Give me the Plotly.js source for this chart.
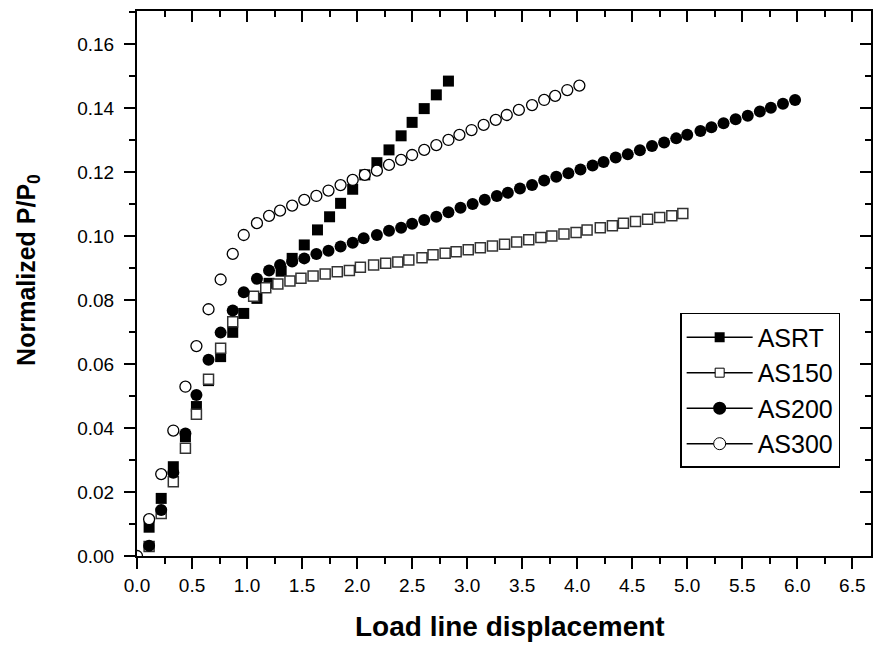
<!DOCTYPE html>
<html>
<head>
<meta charset="utf-8">
<script src="https://cdn.plot.ly/plotly-3.0.1.min.js"></script>
<style>html,body{margin:0;padding:0;background:#fff;}#chart{width:874px;height:645px;}</style>
</head>
<body>
<div id="chart"></div>
<script>
const seriesNames = ["ASRT", "AS150", "AS200", "AS300"];

const asrtX = [0.11, 0.22, 0.33, 0.44, 0.54, 0.65, 0.76, 0.87, 0.97, 1.09, 1.20, 1.31, 1.41, 1.52, 1.64, 1.75, 1.85, 1.96, 2.07, 2.18, 2.29, 2.40, 2.50, 2.61, 2.72, 2.83];
const asrtY = [0.0090, 0.0180, 0.0279, 0.0373, 0.0467, 0.0548, 0.0623, 0.0699, 0.0758, 0.0805, 0.0852, 0.0890, 0.0930, 0.0972, 0.1019, 0.1060, 0.1102, 0.1146, 0.1191, 0.1229, 0.1269, 0.1313, 0.1355, 0.1398, 0.1441, 0.1484];

const as150X = [0.11, 0.22, 0.33, 0.44, 0.54, 0.65, 0.76, 0.87, 1.06, 1.17, 1.28, 1.39, 1.49, 1.60, 1.71, 1.82, 1.93, 2.03, 2.15, 2.26, 2.37, 2.47, 2.59, 2.69, 2.80, 2.90, 3.01, 3.12, 3.23, 3.34, 3.45, 3.56, 3.67, 3.77, 3.88, 3.99, 4.09, 4.21, 4.32, 4.42, 4.53, 4.64, 4.75, 4.86, 4.96];
const as150Y = [0.0030, 0.0133, 0.0232, 0.0337, 0.0443, 0.0552, 0.0649, 0.0732, 0.0812, 0.0838, 0.0850, 0.0859, 0.0868, 0.0875, 0.0881, 0.0888, 0.0892, 0.0902, 0.0909, 0.0915, 0.0919, 0.0925, 0.0932, 0.0941, 0.0946, 0.0951, 0.0957, 0.0963, 0.0969, 0.0974, 0.0981, 0.0988, 0.0995, 0.1000, 0.1006, 0.1011, 0.1019, 0.1026, 0.1032, 0.1040, 0.1045, 0.1052, 0.1058, 0.1063, 0.1070];

const as200X = [0.11, 0.22, 0.33, 0.44, 0.54, 0.65, 0.76, 0.87, 0.97, 1.09, 1.20, 1.30, 1.41, 1.52, 1.63, 1.74, 1.85, 1.96, 2.06, 2.18, 2.29, 2.40, 2.50, 2.61, 2.72, 2.83, 2.94, 3.05, 3.16, 3.27, 3.37, 3.48, 3.59, 3.70, 3.81, 3.92, 4.03, 4.14, 4.24, 4.35, 4.46, 4.57, 4.68, 4.79, 4.90, 5.00, 5.12, 5.22, 5.33, 5.44, 5.55, 5.66, 5.76, 5.87, 5.98];
const as200Y = [0.0032, 0.0144, 0.0260, 0.0383, 0.0503, 0.0613, 0.0698, 0.0767, 0.0824, 0.0866, 0.0892, 0.0909, 0.0920, 0.0930, 0.0944, 0.0954, 0.0967, 0.0979, 0.0993, 0.1003, 0.1016, 0.1026, 0.1038, 0.1050, 0.1060, 0.1074, 0.1088, 0.1100, 0.1113, 0.1125, 0.1135, 0.1148, 0.1159, 0.1173, 0.1185, 0.1196, 0.1208, 0.1220, 0.1231, 0.1245, 0.1255, 0.1268, 0.1281, 0.1292, 0.1305, 0.1316, 0.1328, 0.1340, 0.1352, 0.1365, 0.1376, 0.1389, 0.1401, 0.1413, 0.1425];

const as300X = [0.00, 0.11, 0.22, 0.33, 0.44, 0.54, 0.65, 0.76, 0.87, 0.97, 1.09, 1.20, 1.30, 1.41, 1.52, 1.63, 1.74, 1.85, 1.96, 2.07, 2.18, 2.29, 2.40, 2.50, 2.61, 2.72, 2.83, 2.93, 3.04, 3.15, 3.26, 3.36, 3.47, 3.59, 3.70, 3.80, 3.91, 4.02];
const as300Y = [0.0000, 0.0115, 0.0256, 0.0392, 0.0529, 0.0656, 0.0771, 0.0864, 0.0944, 0.1003, 0.1040, 0.1063, 0.1079, 0.1095, 0.1113, 0.1125, 0.1142, 0.1159, 0.1175, 0.1191, 0.1204, 0.1222, 0.1238, 0.1253, 0.1269, 0.1284, 0.1300, 0.1316, 0.1331, 0.1347, 0.1363, 0.1378, 0.1394, 0.1409, 0.1425, 0.1438, 0.1456, 0.1470];

const xTitle = "Load line displacement";
const yTitle = "Normalized P/P<sub>0</sub>";

const FONT = "Liberation Sans, Arial, sans-serif";

const markerStyles = [
  {symbol: "square", size: 11, color: "#000", line: {color: "#000", width: 0}},
  {symbol: "square", size: 10, color: "#fff", line: {color: "#333", width: 1.5}},
  {symbol: "circle", size: 12, color: "#000", line: {color: "#000", width: 0}},
  {symbol: "circle", size: 11, color: "#fff", line: {color: "#000", width: 1.3}}
];
const legendMarkers = [
  {symbol: "square", size: 10, color: "#000", line: {color: "#000", width: 0}},
  {symbol: "square", size: 9, color: "#fff", line: {color: "#000", width: 1}},
  {symbol: "circle", size: 13, color: "#000", line: {color: "#000", width: 0}},
  {symbol: "circle", size: 12, color: "#fff", line: {color: "#000", width: 1}}
];

const xs = [asrtX, as150X, as200X, as300X];
const ys = [asrtY, as150Y, as200Y, as300Y];

const traces = [];
for (let i = 0; i < 4; i++) {
  traces.push({
    x: xs[i], y: ys[i], type: "scatter", mode: "markers",
    name: seriesNames[i], showlegend: false,
    marker: markerStyles[i], cliponaxis: true
  });
}
for (let i = 0; i < 4; i++) {
  traces.push({
    x: [null], y: [null], type: "scatter", mode: "lines+markers",
    name: seriesNames[i], showlegend: true,
    line: {color: "#000", width: 1.5},
    marker: legendMarkers[i]
  });
}
// dummy trace for the mirrored axes
traces.push({x: [0], y: [0], xaxis: "x2", yaxis: "y2", type: "scatter", mode: "markers",
  marker: {size: 1, color: "rgba(0,0,0,0)"}, showlegend: false, hoverinfo: "skip"});

const XR = [0, 6.67];
const YR = [0, 0.1703];

const layout = {
  width: 874, height: 645,
  margin: {l: 137, r: 3, t: 11, b: 89, pad: 0},
  paper_bgcolor: "#fff", plot_bgcolor: "#fff",
  font: {family: FONT, color: "#000", size: 19},
  showlegend: true,
  legend: {
    x: 0.74, y: 0.446, xanchor: "left", yanchor: "top",
    bordercolor: "#000", borderwidth: 1.5, bgcolor: "#fff",
    font: {family: FONT, size: 25, color: "#000"},
    itemwidth: 66, tracegroupgap: 0
  },
  annotations: [
    {text: "<b>" + xTitle + "</b>", xref: "paper", yref: "paper", x: 0.508, y: -0.130,
     xanchor: "center", yanchor: "middle", showarrow: false, font: {family: FONT, size: 28, color: "#000"}},
    {text: "<b>" + yTitle + "</b>", xref: "paper", yref: "paper", x: -0.1485, y: 0.525,
     xanchor: "center", yanchor: "middle", textangle: -90, showarrow: false, font: {family: FONT, size: 25, color: "#000"}}
  ],
  xaxis: {
    range: XR, dtick: 0.5, tick0: 0, tickformat: ".1f",
    showgrid: false, zeroline: false, showline: true, linecolor: "#000", linewidth: 2,
    ticks: "outside", ticklen: 11, tickwidth: 2, tickcolor: "#000",
    minor: {dtick: 0.25, ticks: "outside", ticklen: 6, tickwidth: 2, tickcolor: "#000", showgrid: false},
    tickfont: {family: FONT, size: 19},
    fixedrange: true
  },
  yaxis: {
    range: YR, dtick: 0.02, tick0: 0, tickformat: ".2f",
    showgrid: false, zeroline: false, showline: true, linecolor: "#000", linewidth: 2,
    ticks: "outside", ticklen: 11, tickwidth: 2, tickcolor: "#000",
    minor: {dtick: 0.01, ticks: "outside", ticklen: 6, tickwidth: 2, tickcolor: "#000", showgrid: false},
    tickfont: {family: FONT, size: 19},
    ticklabelstandoff: 6,
    fixedrange: true
  },
  xaxis2: {
    overlaying: "x", side: "top", anchor: "y2", range: XR, dtick: 0.5, tick0: 0,
    showgrid: false, zeroline: false, showline: true, linecolor: "#000", linewidth: 2,
    ticks: "inside", ticklen: 11, tickwidth: 2, tickcolor: "#000", showticklabels: false,
    minor: {dtick: 0.25, ticks: "inside", ticklen: 6, tickwidth: 2, tickcolor: "#000", showgrid: false},
    fixedrange: true
  },
  yaxis2: {
    overlaying: "y", side: "right", anchor: "x2", range: YR, dtick: 0.02, tick0: 0,
    showgrid: false, zeroline: false, showline: true, linecolor: "#000", linewidth: 2,
    ticks: "inside", ticklen: 11, tickwidth: 2, tickcolor: "#000", showticklabels: false,
    minor: {dtick: 0.01, ticks: "inside", ticklen: 6, tickwidth: 2, tickcolor: "#000", showgrid: false},
    fixedrange: true
  }
};

Plotly.newPlot("chart", traces, layout, {displayModeBar: false, staticPlot: true});
</script>
</body>
</html>
